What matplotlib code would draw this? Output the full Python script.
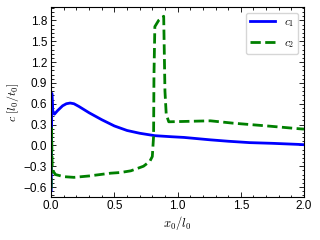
import matplotlib
matplotlib.use('Agg')
import matplotlib.pyplot as plt
import numpy as np
from matplotlib.ticker import MultipleLocator, AutoMinorLocator

plt.rcParams['mathtext.fontset'] = 'cm'
plt.rcParams['font.family'] = ['Liberation Sans', 'DejaVu Sans']
plt.rcParams['font.size'] = 8

# values
x1 = [0.0, 0.005, 0.012, 0.026, 0.05, 0.09, 0.12, 0.15, 0.18, 0.22, 0.3, 0.4,
      0.5, 0.6, 0.7, 0.82, 0.95, 1.05, 1.26, 1.4, 1.57, 1.75, 1.95, 2.0]
c1 = [-0.65, 0.75, 0.5, 0.45, 0.5, 0.57, 0.6, 0.61, 0.6, 0.56, 0.47, 0.37,
      0.28, 0.215, 0.175, 0.14, 0.125, 0.115, 0.08, 0.06, 0.04, 0.03, 0.015,
      0.01]

x2 = [0.0, 0.003, 0.008, 0.034, 0.1, 0.18, 0.3, 0.47, 0.55, 0.63, 0.73, 0.78,
      0.80, 0.81, 0.813, 0.82, 0.85, 0.89, 0.90, 0.91, 0.93, 1.05, 1.26,
      1.44, 1.71, 1.96, 2.0]
c2 = [-0.62, 0.25, -0.35, -0.42, -0.45, -0.46, -0.44, -0.40, -0.39, -0.366,
      -0.30, -0.23, -0.16, 0.13, 1.0, 1.71, 1.8, 1.86, 0.78, 0.45, 0.34,
      0.345, 0.354, 0.32, 0.28, 0.24, 0.235]

fig = plt.figure(figsize=(3.2, 2.4), dpi=100)
ax = fig.add_axes([0.158, 0.18, 0.792, 0.79])
ax.plot(x1, c1, color='b', lw=2, label='$c_1$')
ax.plot(x2, c2, color='g', lw=2, ls='--', label='$c_2$')

ax.set_xlim(-0.005, 2.0)
ax.set_ylim(-0.74, 1.99)
ax.xaxis.set_major_locator(MultipleLocator(0.5))
ax.yaxis.set_major_locator(MultipleLocator(0.3))
ax.xaxis.set_minor_locator(AutoMinorLocator(5))
ax.yaxis.set_minor_locator(AutoMinorLocator(5))
ax.tick_params(which='both', direction='in', top=True, right=True,
               width=0.6, labelsize=8.5)
ax.tick_params(which='major', length=3.5, pad=2.5)
ax.tick_params(which='minor', length=1.8)
for s in ax.spines.values():
    s.set_linewidth(0.8)

ax.set_xlabel('$x_0/l_0$', fontsize=9, labelpad=1)
ax.set_ylabel('$c\\ [l_0/t_0]$', fontsize=8.5, labelpad=2)
ax.legend(loc='upper right', fontsize=8, handlelength=2.2,
          borderaxespad=0.5, labelspacing=0.8)

fig.savefig('out.png', dpi=100)
